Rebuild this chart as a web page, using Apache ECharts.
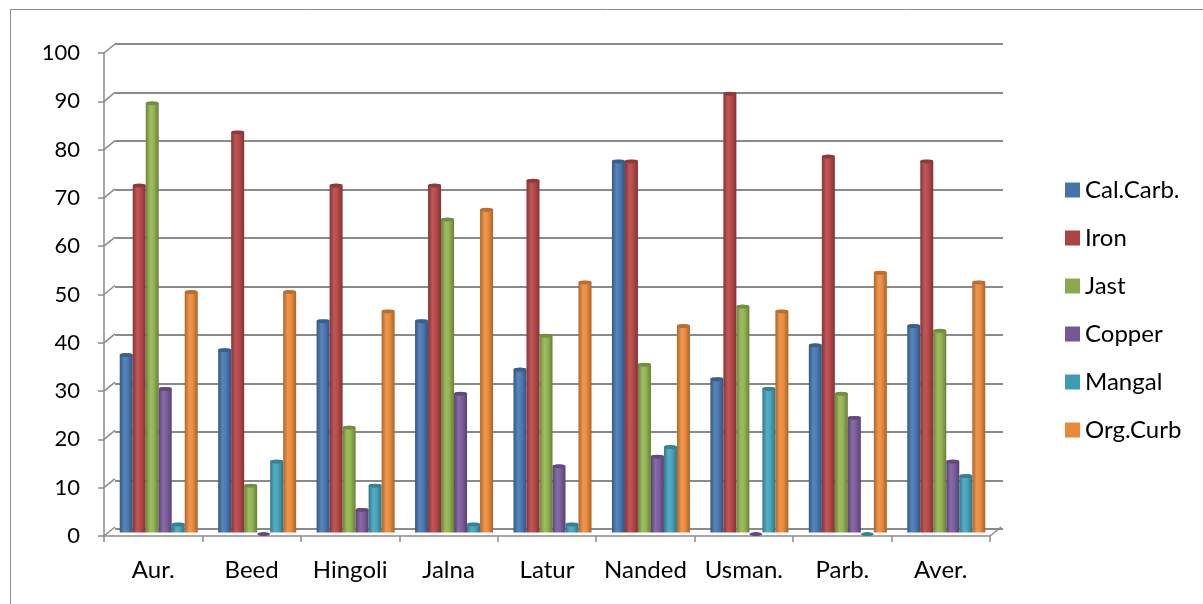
<!DOCTYPE html>
<html>
<head>
<meta charset="utf-8">
<script src="https://cdn.jsdelivr.net/npm/echarts@6/dist/echarts.min.js"></script>
<style>
  html, body { margin: 0; padding: 0; background: #fff; }
  #chart { width: 1203px; height: 604px; }
</style>
</head>
<body>
<div id="chart"></div>
<script>
// Soil nutrient status by district (percent)
const categories = ['Aur.', 'Beed', 'Hingoli', 'Jalna', 'Latur', 'Nanded', 'Usman.', 'Parb.', 'Aver.'];
const seriesNames = ['Cal.Carb.', 'Iron', 'Jast', 'Copper', 'Mangal', 'Org.Curb'];
const calCarb = [37, 38, 44, 44, 34, 77, 32, 39, 43];
const iron    = [72, 83, 72, 72, 73, 77, 91, 78, 77];
const jast    = [89, 10, 22, 65, 41, 35, 47, 29, 42];
const copper  = [30, 0, 5, 29, 14, 16, 0, 24, 15];
const mangal  = [2, 15, 10, 2, 2, 18, 30, 0, 12];
const orgCurb = [50, 50, 46, 67, 52, 43, 46, 54, 52];
const yTicks  = [0, 10, 20, 30, 40, 50, 60, 70, 80, 90, 100];

const seriesValues = [calCarb, iron, jast, copper, mangal, orgCurb];
const baseColors = ['#4a7ab5', '#b9494a', '#95b653', '#7d5f9f', '#46a6bf', '#ee8d3e'];
const legendColors = ['#4673ab', '#ab4442', '#8ca94f', '#725897', '#409bb4', '#e8893c'];

// Pseudo-3D frame: front axes, a back wall shifted by the depth, bars in between
const FRONT = { left: 104, top: 53, width: 886, height: 483 };
const DX = 11, DY = 9;
const BACK = { left: FRONT.left + DX, top: FRONT.top - DY, width: FRONT.width + 2, height: FRONT.height + 2 };
const MID = { left: FRONT.left + DX / 2, top: FRONT.top - DY / 2, width: FRONT.width, height: FRONT.height + 1 };
const BAR_W = 13;

function shade(hex, f) {
  const n = parseInt(hex.slice(1), 16);
  const r = (n >> 16) & 255, g = (n >> 8) & 255, b = n & 255;
  const m = (c) => Math.max(0, Math.min(255, Math.round(f < 0 ? c * (1 + f) : c + (255 - c) * f)));
  return 'rgb(' + m(r) + ',' + m(g) + ',' + m(b) + ')';
}
function cylinder(hex) {
  return {
    type: 'linear', x: 0, y: 0, x2: 1, y2: 0,
    colorStops: [
      { offset: 0, color: shade(hex, -0.28) },
      { offset: 0.35, color: shade(hex, 0.08) },
      { offset: 0.6, color: hex },
      { offset: 1, color: shade(hex, -0.3) }
    ]
  };
}

const FONT = 'Lato, "Open Sans", sans-serif';
const GRID_COLOR = '#8a8a8a';

const series = [];
seriesNames.forEach((name, i) => {
  series.push({
    name: name,
    type: 'bar',
    xAxisIndex: 2, yAxisIndex: 2,
    data: seriesValues[i],
    barWidth: BAR_W,
    barGap: '0%',
    itemStyle: { color: cylinder(baseColors[i]), borderRadius: [2, 2, 0, 0] },
    z: 3
  });
});
// elliptical caps on top of each cylinder
seriesNames.forEach((name, i) => {
  series.push({
    name: name,
    type: 'pictorialBar',
    xAxisIndex: 2, yAxisIndex: 2,
    data: seriesValues[i],
    barWidth: BAR_W,
    barGap: '0%',
    symbol: 'circle',
    symbolSize: [BAR_W, 4],
    symbolPosition: 'end',
    symbolOffset: [0, '-10%'],
    itemStyle: { color: shade(baseColors[i], -0.22) },
    silent: true,
    z: 4
  });
});
// depth connectors from the front value axis to the back wall
series.push({
  type: 'custom',
  xAxisIndex: 0, yAxisIndex: 0,
  data: yTicks.map(v => [0, v]),
  encode: { x: 0, y: 1 },
  silent: true,
  clip: false,
  z: 2,
  renderItem: function (params, api) {
    const cs = params.coordSys;
    const y = api.coord([0, api.value(1)])[1];
    const style = { stroke: GRID_COLOR, lineWidth: 1.5 };
    const children = [{ type: 'line', shape: { x1: cs.x, y1: y, x2: cs.x + DX, y2: y - DY }, style: style }];
    if (api.value(1) === 0) {
      children.push({ type: 'line', shape: { x1: cs.x + cs.width, y1: y, x2: cs.x + cs.width + DX, y2: y - DY }, style: style });
    }
    return { type: 'group', children: children };
  }
});

const chart = echarts.init(document.getElementById('chart'), null, { renderer: 'canvas' });
chart.setOption({
  animation: false,
  backgroundColor: '#fff',
  textStyle: { fontFamily: FONT },
  graphic: [{
    type: 'rect', left: 8, top: 7,
    shape: { width: 1205, height: 610 },
    style: { fill: 'none', stroke: '#8c8c8c', lineWidth: 1 },
    silent: true
  }],
  legend: {
    orient: 'vertical',
    left: 1060, top: 173,
    data: seriesNames.map((n, i) => ({ name: n, itemStyle: { color: legendColors[i] } })),
    icon: 'rect',
    itemWidth: 15, itemHeight: 15,
    itemGap: 24,
    textStyle: { fontFamily: FONT, fontSize: 24, color: '#000', lineHeight: 24, padding: [0, 0, 0, 0] }
  },
  grid: [
    Object.assign({ containLabel: false }, FRONT),
    Object.assign({ containLabel: false }, BACK),
    Object.assign({ containLabel: false }, MID)
  ],
  xAxis: [
    {
      gridIndex: 0, type: 'category', data: categories, boundaryGap: true,
      axisLine: { lineStyle: { color: GRID_COLOR, width: 1.5 } },
      axisTick: { show: true, interval: 0, length: 6, lineStyle: { color: GRID_COLOR, width: 1.5 } },
      axisLabel: { interval: 0, margin: 22, fontSize: 24, color: '#000', fontFamily: FONT },
      splitLine: { show: false }
    },
    { gridIndex: 1, type: 'category', data: categories, show: false },
    { gridIndex: 2, type: 'category', data: categories, show: false }
  ],
  yAxis: [
    {
      gridIndex: 0, type: 'value', min: 0, max: 100, interval: 10,
      axisLine: { show: true, lineStyle: { color: GRID_COLOR, width: 1.5 } },
      axisTick: { show: true, length: 6, lineStyle: { color: GRID_COLOR, width: 1.5 } },
      axisLabel: { margin: 24, fontSize: 22, color: '#000', fontFamily: FONT },
      splitLine: { show: false }
    },
    {
      gridIndex: 1, type: 'value', min: 0, max: 100, interval: 10,
      axisLine: { show: false }, axisTick: { show: false }, axisLabel: { show: false },
      splitLine: { show: true, lineStyle: { color: GRID_COLOR, width: 2 } }
    },
    {
      gridIndex: 2, type: 'value', min: 0, max: 100, interval: 10, show: false,
      splitLine: { show: false }
    }
  ],
  series: series
});
</script>
</body>
</html>
